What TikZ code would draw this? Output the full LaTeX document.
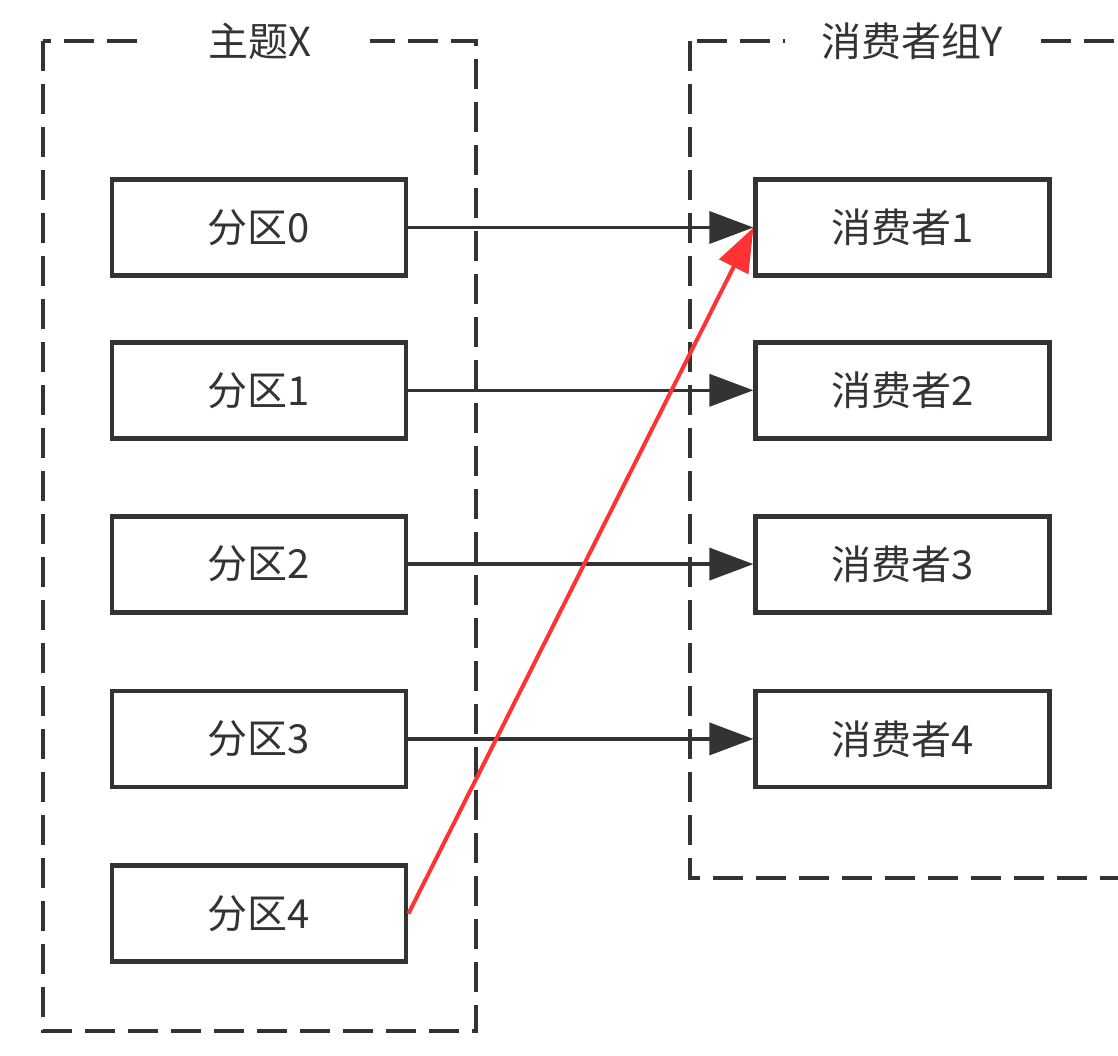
\documentclass[tikz,border=0pt]{standalone}
\usepackage{fontspec}
\usepackage{xcolor}
\usetikzlibrary{arrows.meta,positioning}
\setmainfont{Noto Sans CJK SC}
\definecolor{kdark}{HTML}{333333}
\definecolor{kred}{HTML}{FF3333}
\tikzset{
  box/.style={draw=kdark,line width=2.4pt,fill=white,minimum width=147pt,minimum height=48pt,inner sep=0pt,font=\fontsize{20}{24}\selectfont,text=kdark},
  frame/.style={draw=kdark,line width=2.4pt,dash pattern=on 15pt off 6.5pt},
  title/.style={fill=white,inner sep=0pt,minimum height=16pt,font=\fontsize{20}{24}\selectfont,text=kdark},
  ar/.style={-{Triangle[length=22pt,width=16pt]},draw=kdark,fill=kdark,line width=1.8pt},
  arred/.style={ar,draw=kred,fill=kred,line width=2pt},
}
\begin{document}
\begin{tikzpicture}[x=0.5pt,y=-0.5pt]
  \useasboundingbox (0,0) rectangle (1118,1055);
  \clip (0,0) rectangle (1118,1055);
  % frames
  \draw[frame] (43,41) rectangle (476,1031);
  \draw[frame] (690,41) rectangle (1140,878);
  \node[title,minimum width=110pt] (topic) at (260,41) {主题X};
  \node[title,minimum width=127pt] (group) at (912,41) {消费者组Y};
  % partitions
  \node[box] (part0) at (259,227.5) {分区0};
  \node[box,below=31pt of part0] (part1) {分区1};
  \node[box,below=36.5pt of part1] (part2) {分区2};
  \node[box,below=37pt of part2] (part3) {分区3};
  \node[box,below=37pt of part3] (part4) {分区4};
  % consumers
  \node[box,right=172.5pt of part0] (cons1) {消费者1};
  \node[box,right=172.5pt of part1] (cons2) {消费者2};
  \node[box,right=172.5pt of part2] (cons3) {消费者3};
  \node[box,right=172.5pt of part3] (cons4) {消费者4};
  \draw[ar] (part0.east)--(cons1.west);\draw[ar] (part1.east)--(cons2.west);\draw[ar] (part2.east)--(cons3.west);\draw[ar] (part3.east)--(cons4.west);
  \draw[arred] (part4.east)--(cons1.west);
\end{tikzpicture}
\end{document}
